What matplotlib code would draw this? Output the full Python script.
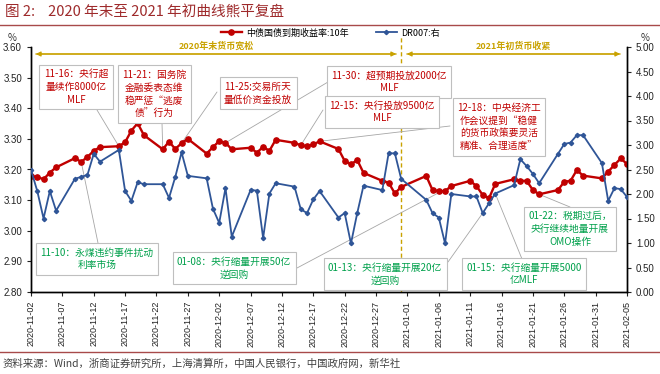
import numpy as np
import pandas as pd
import matplotlib
matplotlib.use('Agg')
import matplotlib.pyplot as plt
import matplotlib.dates as mdates
from matplotlib.patches import FancyArrowPatch
from matplotlib.lines import Line2D

plt.rcParams['font.family'] = ['Noto Sans CJK SC', 'DejaVu Sans']
plt.rcParams['axes.unicode_minus'] = False

# trading days shown in the chart
dates = [
    '2020-11-02', '2020-11-03', '2020-11-04', '2020-11-05', '2020-11-06',
    '2020-11-09', '2020-11-10', '2020-11-11', '2020-11-12', '2020-11-13',
    '2020-11-16', '2020-11-17', '2020-11-18', '2020-11-19', '2020-11-20',
    '2020-11-23', '2020-11-24', '2020-11-25', '2020-11-26', '2020-11-27',
    '2020-11-30', '2020-12-01', '2020-12-02', '2020-12-03', '2020-12-04',
    '2020-12-07', '2020-12-08', '2020-12-09', '2020-12-10', '2020-12-11',
    '2020-12-14', '2020-12-15', '2020-12-16', '2020-12-17', '2020-12-18',
    '2020-12-21', '2020-12-22', '2020-12-23', '2020-12-24', '2020-12-25',
    '2020-12-28', '2020-12-29', '2020-12-30', '2020-12-31',
    '2021-01-04', '2021-01-05', '2021-01-06', '2021-01-07', '2021-01-08',
    '2021-01-11', '2021-01-12', '2021-01-13', '2021-01-14', '2021-01-15',
    '2021-01-18', '2021-01-19', '2021-01-20', '2021-01-21', '2021-01-22',
    '2021-01-25', '2021-01-26', '2021-01-27', '2021-01-28', '2021-01-29',
    '2021-02-01', '2021-02-02', '2021-02-03', '2021-02-04', '2021-02-05',
]

# 中债国债到期收益率:10年 (left axis, %)
cgb10y = [
    3.178, 3.176, 3.168, 3.190, 3.207, 3.237, 3.225, 3.241, 3.261, 3.273,
    3.276, 3.289, 3.327, 3.351, 3.312, 3.266, 3.291, 3.267, 3.286, 3.300,
    3.252,
    3.273, 3.293, 3.287, 3.266, 3.271, 3.255, 3.274, 3.261, 3.297, 3.287,
    3.279, 3.276, 3.282, 3.292, 3.267, 3.228, 3.217, 3.231, 3.189, 3.163,
    3.157, 3.122, 3.143,
    3.179, 3.133, 3.129, 3.129, 3.146, 3.163, 3.146, 3.117, 3.106, 3.153,
    3.168, 3.163, 3.163, 3.133, 3.119, 3.133, 3.160, 3.163, 3.198, 3.180,
    3.171, 3.193, 3.215, 3.236, 3.218,
]

# DR007 (right axis, %)
dr007 = [
    2.49, 2.06, 1.50, 2.06, 1.66, 2.31, 2.35, 2.39, 2.82, 2.66,
    2.90, 2.06, 1.86, 2.24, 2.20, 2.20, 1.92, 2.35, 2.85, 2.37,
    2.32,
    1.70, 1.41, 2.12, 1.13, 2.08, 2.07, 1.10, 2.01, 2.22, 2.15,
    1.69, 1.61, 1.89, 2.06, 1.52, 1.61, 0.99, 1.61, 2.17, 2.08,
    2.83, 2.83, 2.31,
    1.88, 1.61, 1.52, 0.99, 2.00, 1.95, 1.95, 1.61, 1.81, 2.01,
    2.18, 2.71, 2.57, 2.41, 2.22, 2.82, 3.02, 3.05, 3.20, 3.20,
    2.63, 1.86, 2.12, 2.10, 1.94,
]

left_ticks = [2.80, 2.90, 3.00, 3.10, 3.20, 3.30, 3.40, 3.50, 3.60]
right_ticks = [0.00, 0.50, 1.00, 1.50, 2.00, 2.50, 3.00, 3.50, 4.00, 4.50, 5.00]

# (text, colour, box centre px, leader start px, target date, series)
notes = [
    ('11-16：央行超\n量续作8000亿\nMLF', 'red', (76, 87), (97, 110), '2020-11-16', 'cgb'),
    ('11-21：国务院\n金融委表态维\n稳严惩“逃废\n债”行为', 'red', (154, 94), (162, 123), '2020-11-23', 'cgb'),
    ('11-25:交易所天\n量低价资金投放', 'red', (258, 93), (217, 92), '2020-11-26', 'cgb'),
    ('11-30：超预期投放2000亿\nMLF', 'red', (389, 82), (328, 82), '2020-12-03', 'cgb'),
    ('12-15：央行投放9500亿\nMLF', 'red', (382, 112), (323, 110), '2020-12-15', 'cgb'),
    ('12-18：中央经济工\n作会议提到“稳健\n的货币政策要灵活\n精准、合理适度”', 'red', (499, 127), (450, 126), '2020-12-18', 'cgb'),
    ('11-10：永煤违约事件扰动\n利率市场', 'green', (97, 259), (98, 243), '2020-11-10', 'cgb'),
    ('01-08：央行缩量开展50亿\n逆回购', 'green', (234, 268), (297, 268), '2021-01-08', 'cgb'),
    ('01-13：央行缩量开展20亿\n逆回购', 'green', (385, 274), (448, 262), '2021-01-13', 'dr'),
    ('01-15：央行缩量开展5000\n亿MLF', 'green', (524, 274), (522, 259), '2021-01-15', 'dr'),
    ('01-22：税期过后，\n央行继续地量开展\nOMO操作', 'green', (570, 229), (570, 207), '2021-01-22', 'cgb'),
]

W, H = 660, 374
RED = '#C00000'
BLUE = '#2F5597'
GREEN = '#00A04B'
GOLD = '#C9A200'
TITLE = '#9E2A2B'
RULE = '#A84A4A'


def px(x, y):
    return (x / W, 1 - y / H)


x = pd.to_datetime(dates)

fig = plt.figure(figsize=(W / 100, H / 100), dpi=100)
ax = fig.add_axes([31 / W, 82 / H, 596 / W, 245 / H])
ax2 = ax.twinx()

ax.plot(x, cgb10y, color=RED, lw=1.7, marker='o', ms=3.8,
        mfc=RED, mec=RED, zorder=3)
ax2.plot(x, dr007, color=BLUE, lw=1.3, marker='D', ms=2.2,
         mfc=BLUE, mec=BLUE, zorder=3)

ax.set_xlim(pd.Timestamp('2020-11-02'), pd.Timestamp('2021-02-05'))
ax.set_ylim(2.8, 3.6)
ax2.set_ylim(0, 5)
ax.set_yticks(left_ticks)
ax.set_yticklabels([f'{v:.2f}' for v in left_ticks])
ax2.set_yticks(right_ticks)
ax2.set_yticklabels([f'{v:.2f}' for v in right_ticks])

xt = pd.date_range('2020-11-02', '2021-02-05', freq='5D')
ax.set_xticks(xt)
ax.xaxis.set_major_formatter(mdates.DateFormatter('%Y-%m-%d'))
ax.tick_params(axis='x', rotation=90, labelsize=6.5, length=3,
               labelfontfamily='Liberation Sans', colors='#222222')
ax.tick_params(axis='y', labelsize=7, length=3,
               labelfontfamily='Liberation Sans', colors='#222222')
ax2.tick_params(axis='y', labelsize=7, length=3,
                labelfontfamily='Liberation Sans', colors='#222222')
for a in (ax, ax2):
    a.spines['top'].set_visible(False)
    for s in ('left', 'right', 'bottom'):
        a.spines[s].set_color('#000000')
        a.spines[s].set_linewidth(1.0)

# divider between the two phases
ax.axvline(pd.Timestamp('2020-12-31'), ymin=0, ymax=(292 - 36) / 245,
           color=GOLD, lw=1.0, ls=(0, (3, 2)), clip_on=False, zorder=1)

# phase arrows
for (x0, x1, label) in [(33, 399, '2020年末货币宽松'), (404, 623, '2021年初货币收紧')]:
    fig.add_artist(FancyArrowPatch(px(x0, 54), px(x1, 54), transform=fig.transFigure,
                                   arrowstyle='-|>', mutation_scale=7, color=GOLD, lw=0.9))
    fig.add_artist(FancyArrowPatch(px(x1, 54), px(x0, 54), transform=fig.transFigure,
                                   arrowstyle='-|>', mutation_scale=7, color=GOLD, lw=0.9))
    fig.text(*px((x0 + x1) / 2, 46), label, color=GOLD, fontsize=6.5,
             ha='center', va='center', fontweight='bold')

# callouts
for text, col, centre, start, day, series in notes:
    i = dates.index(day)
    if series == 'cgb':
        tgt_ax, val = ax, cgb10y[i]
    else:
        tgt_ax, val = ax2, dr007[i]
    tgt_ax.annotate('', xy=(mdates.date2num(pd.Timestamp(day)), val),
                    xycoords='data', xytext=px(*start), textcoords='figure fraction',
                    arrowprops=dict(arrowstyle='-', color='#A6A6A6', lw=0.6,
                                    shrinkA=0, shrinkB=0), zorder=2)
    fig.text(*px(*centre), text, color=RED if col == 'red' else GREEN,
             fontsize=7, ha='center', va='center', linespacing=1.35, zorder=6,
             bbox=dict(boxstyle='square,pad=0.45', fc='white', ec='#BFBFBF', lw=0.8))

# legend
handles = [
    Line2D([], [], color=RED, lw=1.7, marker='o', ms=3.8),
    Line2D([], [], color=BLUE, lw=1.3, marker='D', ms=2.2),
]
fig.legend(handles, ['中债国债到期收益率:10年', 'DR007:右'], loc='center',
           bbox_to_anchor=px(330, 33), ncol=2, frameon=False, fontsize=6.5,
           handlelength=2.4, columnspacing=3.0, handletextpad=0.4)

fig.text(*px(12, 38), '%', fontsize=7, ha='center', va='center', color='#333333')
fig.text(*px(645, 38), '%', fontsize=7, ha='center', va='center', color='#333333')

# title, rules and source
fig.text(*px(5, 12), '图 2:    2020 年末至 2021 年初曲线熊平复盘', color=TITLE,
         fontsize=10.5, ha='left', va='center')
fig.add_artist(Line2D([0, 1], [1 - 25 / H] * 2, transform=fig.transFigure,
                      color=RULE, lw=1.0))
fig.add_artist(Line2D([0, 1], [1 - 352 / H] * 2, transform=fig.transFigure,
                      color=RULE, lw=1.0))
fig.text(*px(3, 364), '资料来源：Wind，浙商证券研究所，上海清算所，中国人民银行，中国政府网，新华社',
         color='#404040', fontsize=7.5, ha='left', va='center')

fig.savefig('out.png', dpi=100)
